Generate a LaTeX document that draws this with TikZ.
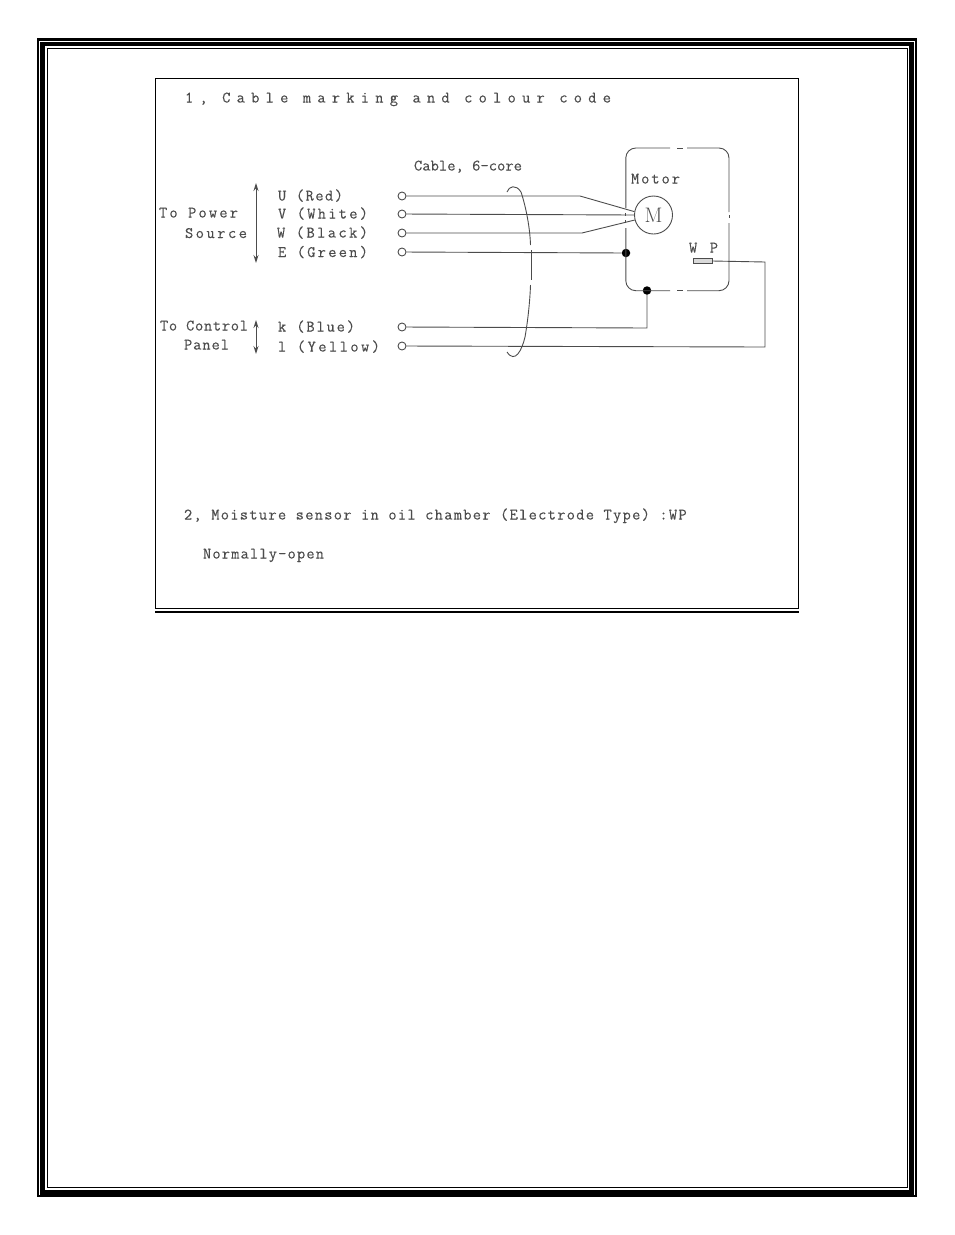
\documentclass[tikz,border=0pt]{standalone}
\usepackage{fontspec}
\usetikzlibrary{arrows.meta}
\newfontfamily\labfont{Latin Modern Mono}
\newlength\fitlen
\newcommand\fit[3]{\settowidth\fitlen{#3}\pgfmathsetmacro\lsval{((#1)-\fitlen/1pt)/(#2)/16*100}\addfontfeature{LetterSpace=\lsval,FakeBold=0.25}#3}
\definecolor{ink}{gray}{0.3}
\tikzset{
  lab/.style={inner sep=0pt,outer sep=0pt,anchor=base west,text=ink,font=\labfont\fontsize{16}{18}\selectfont},
  wire/.style={draw=ink,line width=0.9pt},
  term/.style={circle,draw=ink,line width=0.9pt,minimum size=8pt,inner sep=0pt},
  junc/.style={circle,fill=black,minimum size=8.5pt,inner sep=0pt},
  frm/.style={draw=black}
}
\begin{document}
\begin{tikzpicture}[x=1pt,y=-1pt]
\useasboundingbox (0,0) rectangle (954,1235);
% page border
\draw[frm,line width=2.2pt] (38,39.5) rectangle (915.6,1196);
\draw[frm,line width=4.6pt] (42.6,44) rectangle (911.6,1192.3);
\draw[frm,line width=1pt] (47,48) rectangle (907,1187.8);
% picture frame
\draw[frm,line width=1pt] (155.5,78.5) rectangle (798.5,608.5);
\draw[frm,line width=2pt] (155,611.5) -- (799,611.5);
% terminals
\node[term] (tU) at (402,196) {};
\node[term] (tV) at (402,214) {};
\node[term] (tW) at (402,233) {};
\node[term] (tE) at (402,252) {};
\node[term] (tk) at (402,327) {};
\node[term] (tl) at (402,346) {};
% motor
\node[circle,draw=ink,line width=0.9pt,minimum size=38pt,inner sep=0pt,text=ink,font=\fontsize{21}{21}\selectfont] (mot) at (653.5,215) {M};
\node[draw=ink,line width=0.9pt,fill=gray!30,minimum width=19pt,minimum height=4.5pt,inner sep=0pt] (wp) at (702.5,261) {};
\node[junc] (jE) at (626,253) {};
\node[junc] (jk) at (647,290.5) {};
\coordinate (kU) at (580,196);
\coordinate (kW) at (582,233);
\coordinate (ck) at (647,328);
\coordinate (cl) at (765,347);
\coordinate (cr) at (765,262);
% motor housing, chain-line
\draw[wire,rounded corners=10pt] (625.8,208) -- (625.8,148) -- (670,148);
\draw[wire,rounded corners=10pt] (687,148) -- (729,148) -- (729,212);
\draw[wire,rounded corners=10pt] (729,223) -- (729,290.7) -- (687,290.7);
\draw[wire,rounded corners=10pt] (670,290.7) -- (625.8,290.7) -- (625.8,228);
\draw[wire] (677,148) -- (683,148) (729,215) -- (729,218) (677,290.7) -- (683,290.7) (625.8,213) -- (625.8,216) (625.8,220) -- (625.8,223);
% wires
\draw[wire] (tU) -- (kU) -- (mot.170);
\draw[wire] (tV) -- (mot.west);
\draw[wire] (tW) -- (kW) -- (mot.195);
\draw[wire] (tE) -- (jE);
\draw[wire] (tk) -- (ck) -- (jk);
\draw[wire] (tl) -- (cl) -- (cr) -- (wp.east);
% cable ring
\coordinate (rTop) at (507,192);
\coordinate (rBot) at (507,352);
\draw[wire] (rTop) .. controls (509,186) and (516,184) .. (521,192) .. controls (526,207) and (530,228) .. (530.5,245);
\draw[wire] (531.5,250) -- (531.5,280);
\draw[wire] (530.5,285) .. controls (530,300) and (528,320) .. (525,337) .. controls (522,350) and (515,364) .. (rBot);
% power arrows
\coordinate (a1) at (256,183);
\coordinate (a2) at (256,263);
\coordinate (b1) at (256,320);
\coordinate (b2) at (256,354);
\draw[wire,{Stealth[length=8pt,width=5pt]}-{Stealth[length=8pt,width=5pt]}] (a1) -- (a2);
\draw[wire,{Stealth[length=8pt,width=5pt]}-{Stealth[length=8pt,width=5pt]}] (b1) -- (b2);
% texts
\node[lab] (t1) at (185,102.5) {\fit{426}{26}{1, Cable marking and colour code}};
\node[lab] (t2) at (414,170.5) {\fit{108}{11}{Cable, 6-core}};
\node[lab] (t3) at (631,183.5) {\fit{49}{4}{Motor}};
\node[lab] (t4) at (689,252.5) {\fit{29}{1}{WP}};
\node[lab] (t5) at (159,217.5) {\fit{79}{6}{To Power}};
\node[lab] (t6) at (185,238) {\fit{62}{5}{Source}};
\node[lab] (t7) at (278,200.5) {\fit{65}{5}{U (Red)}};
\node[lab] (t8) at (278,218.5) {\fit{90}{7}{V (White)}};
\node[lab] (t9) at (277,237.5) {\fit{91}{7}{W (Black)}};
\node[lab] (t10) at (278,257) {\fit{90}{7}{E (Green)}};
\node[lab] (t11) at (160,330.5) {\fit{88}{8}{To Control}};
\node[lab] (t12) at (184,349.5) {\fit{45}{4}{Panel}};
\node[lab] (t13) at (278,331.5) {\fit{77}{6}{k (Blue)}};
\node[lab] (t14) at (278,351.5) {\fit{102}{8}{l (Yellow)}};
\node[lab] (t15) at (184,519.5) {\fit{504}{46}{2, Moisture sensor in oil chamber (Electrode Type) :WP}};
\node[lab] (t16) at (203,558.5) {\fit{121}{12}{Normally-open}};
\end{tikzpicture}
\end{document}
